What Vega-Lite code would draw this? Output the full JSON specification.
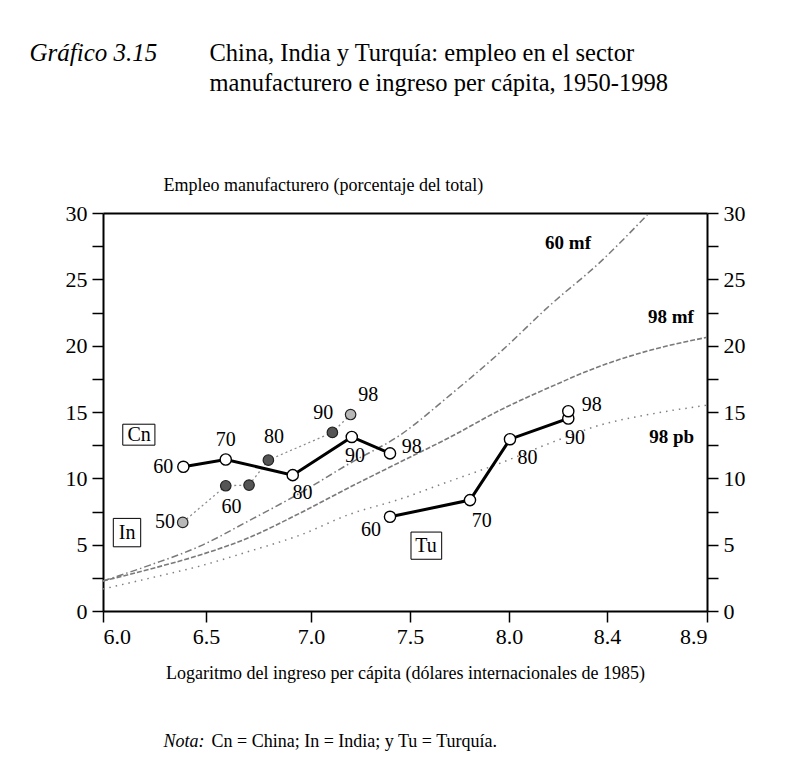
{
  "$schema": "https://vega.github.io/schema/vega-lite/v6.json",
  "width": 604,
  "height": 398,
  "autosize": {"type": "none"},
  "padding": {"left": 103, "top": 213, "right": 95, "bottom": 163},
  "background": "white",
  "config": {
    "view": {"stroke": null},
    "font": "Liberation Serif",
    "axis": {
      "grid": false,
      "labelFont": "Liberation Serif",
      "labelFontSize": 22,
      "labelColor": "black",
      "titleFont": "Liberation Serif",
      "titleFontSize": 18,
      "titleFontWeight": "normal",
      "titleColor": "black",
      "domainColor": "black",
      "domainWidth": 2,
      "tickColor": "black",
      "tickWidth": 1.5
    }
  },
  "datasets": {
    "curves": [
      {"curve": "60 mf", "x": 6.0, "y": 2.26},
      {"curve": "60 mf", "x": 6.228, "y": 3.46},
      {"curve": "60 mf", "x": 6.471, "y": 4.89},
      {"curve": "60 mf", "x": 6.71, "y": 6.85},
      {"curve": "60 mf", "x": 6.948, "y": 8.89},
      {"curve": "60 mf", "x": 7.197, "y": 11.14},
      {"curve": "60 mf", "x": 7.449, "y": 13.25},
      {"curve": "60 mf", "x": 7.702, "y": 16.27},
      {"curve": "60 mf", "x": 7.955, "y": 19.5},
      {"curve": "60 mf", "x": 8.167, "y": 23.04},
      {"curve": "60 mf", "x": 8.371, "y": 26.28},
      {"curve": "60 mf", "x": 8.61, "y": 30.0},
      {"curve": "98 mf", "x": 6.0, "y": 2.26},
      {"curve": "98 mf", "x": 6.228, "y": 3.16},
      {"curve": "98 mf", "x": 6.471, "y": 4.22},
      {"curve": "98 mf", "x": 6.71, "y": 5.57},
      {"curve": "98 mf", "x": 6.948, "y": 7.38},
      {"curve": "98 mf", "x": 7.197, "y": 9.34},
      {"curve": "98 mf", "x": 7.449, "y": 11.22},
      {"curve": "98 mf", "x": 7.702, "y": 13.1},
      {"curve": "98 mf", "x": 7.955, "y": 15.14},
      {"curve": "98 mf", "x": 8.167, "y": 16.87},
      {"curve": "98 mf", "x": 8.371, "y": 18.45},
      {"curve": "98 mf", "x": 8.615, "y": 19.65},
      {"curve": "98 mf", "x": 8.9, "y": 20.63},
      {"curve": "98 pb", "x": 6.0, "y": 1.66},
      {"curve": "98 pb", "x": 6.228, "y": 2.48},
      {"curve": "98 pb", "x": 6.471, "y": 3.39},
      {"curve": "98 pb", "x": 6.71, "y": 4.52},
      {"curve": "98 pb", "x": 6.948, "y": 5.72},
      {"curve": "98 pb", "x": 7.197, "y": 7.3},
      {"curve": "98 pb", "x": 7.449, "y": 8.43},
      {"curve": "98 pb", "x": 7.702, "y": 9.79},
      {"curve": "98 pb", "x": 7.955, "y": 11.14},
      {"curve": "98 pb", "x": 8.167, "y": 12.65},
      {"curve": "98 pb", "x": 8.371, "y": 14.01},
      {"curve": "98 pb", "x": 8.615, "y": 14.83},
      {"curve": "98 pb", "x": 8.9, "y": 15.51}
    ],
    "series": [
      {"c": "Cn", "year": 1960, "x": 6.39, "y": 10.87},
      {"c": "Cn", "year": 1970, "x": 6.594, "y": 11.42},
      {"c": "Cn", "year": 1980, "x": 6.913, "y": 10.24},
      {"c": "Cn", "year": 1990, "x": 7.206, "y": 13.12},
      {"c": "Cn", "year": 1998, "x": 7.399, "y": 11.88},
      {"c": "Tu", "year": 1960, "x": 7.399, "y": 7.1},
      {"c": "Tu", "year": 1970, "x": 7.803, "y": 8.36},
      {"c": "Tu", "year": 1980, "x": 8.004, "y": 12.95},
      {"c": "Tu", "year": 1990, "x": 8.242, "y": 14.51},
      {"c": "Tu", "year": 1998, "x": 8.242, "y": 15.06},
      {"c": "In", "year": 1950, "x": 6.387, "y": 6.68},
      {"c": "In", "year": 1960, "x": 6.594, "y": 9.44},
      {"c": "In", "year": 1970, "x": 6.705, "y": 9.49},
      {"c": "In", "year": 1980, "x": 6.797, "y": 11.37},
      {"c": "In", "year": 1990, "x": 7.108, "y": 13.46},
      {"c": "In", "year": 1998, "x": 7.2, "y": 14.81}
    ],
    "yearLabels": [
      {"t": "60", "x": 6.293, "y": 10.87},
      {"t": "70", "x": 6.594, "y": 12.88},
      {"t": "80", "x": 6.96, "y": 8.86},
      {"t": "90", "x": 7.222, "y": 11.67},
      {"t": "98", "x": 7.509, "y": 12.37},
      {"t": "50", "x": 6.301, "y": 6.72},
      {"t": "60", "x": 6.622, "y": 7.85},
      {"t": "80", "x": 6.824, "y": 13.12},
      {"t": "90", "x": 7.062, "y": 14.89},
      {"t": "98", "x": 7.289, "y": 16.27},
      {"t": "60", "x": 7.303, "y": 6.1},
      {"t": "70", "x": 7.862, "y": 6.78},
      {"t": "80", "x": 8.076, "y": 11.54},
      {"t": "90", "x": 8.269, "y": 13.03},
      {"t": "98", "x": 8.338, "y": 15.51}
    ],
    "curveLabels": [
      {"t": "60 mf", "x": 8.241, "y": 27.71},
      {"t": "98 mf", "x": 8.72, "y": 22.18},
      {"t": "98 pb", "x": 8.723, "y": 13.1}
    ],
    "boxes": [
      {"t": "Cn", "x": 6.175, "y": 13.29, "x1": 6.096, "x2": 6.252, "y1": 12.5, "y2": 14.08},
      {"t": "In", "x": 6.117, "y": 5.91, "x1": 6.05, "x2": 6.183, "y1": 4.84, "y2": 6.98},
      {"t": "Tu", "x": 7.581, "y": 4.93, "x1": 7.505, "x2": 7.66, "y1": 3.9, "y2": 5.95}
    ]
  },
  "resolve": {"axis": {"x": "independent", "y": "independent"}},
  "layer": [
    {
      "data": {"name": "curves"},
      "transform": [{"filter": "datum.curve === '60 mf'"}],
      "mark": {"type": "line", "color": "#7a7a7a", "strokeWidth": 1.5, "strokeDash": [7, 3, 1.5, 3], "interpolate": "monotone"},
      "encoding": {
        "x": {
          "field": "x", "type": "quantitative",
          "scale": {"type": "linear", "domain": [6.0, 6.5, 7.0, 7.5, 8.0, 8.4, 8.9], "range": [0, 103, 208, 307, 406, 504, 604], "nice": false, "zero": false},
          "axis": {
            "orient": "bottom", "values": [6.0, 6.5, 7.0, 7.5, 8.0, 8.4, 8.9], "format": ".1f",
            "tickSize": 11, "labelPadding": 4,
            "title": "Logaritmo del ingreso per cápita (dólares internacionales de 1985)",
            "titleX": 302, "titleY": 67, "titleAlign": "center", "titleBaseline": "alphabetic"
          }
        },
        "y": {
          "field": "y", "type": "quantitative",
          "scale": {"domain": [0, 30], "nice": false, "zero": false},
          "axis": {
            "orient": "left", "values": [0, 2.5, 5, 7.5, 10, 12.5, 15, 17.5, 20, 22.5, 25, 27.5, 30],
            "labelExpr": "datum.value % 5 === 0 ? datum.label : ''",
            "tickSize": 11, "labelPadding": 5,
            "title": "Empleo manufacturero (porcentaje del total)",
            "titleAngle": 0, "titleX": 60, "titleY": -23, "titleAlign": "left", "titleBaseline": "alphabetic"
          }
        }
      }
    },
    {
      "data": {"name": "curves"},
      "transform": [{"filter": "datum.curve === '98 mf'"}],
      "mark": {"type": "line", "color": "#7a7a7a", "strokeWidth": 1.6, "strokeDash": [5, 2], "interpolate": "monotone"},
      "encoding": {
        "x": {
          "field": "x", "type": "quantitative",
          "scale": {"type": "linear", "domain": [6.0, 6.5, 7.0, 7.5, 8.0, 8.4, 8.9], "range": [0, 103, 208, 307, 406, 504, 604], "nice": false, "zero": false},
          "axis": {
            "orient": "top", "ticks": false, "labels": false, "domain": true,
            "title": ["China, India y Turquía: empleo en el sector", "manufacturero e ingreso per cápita, 1950-1998"],
            "titleX": 106, "titleY": -153, "titleAlign": "left", "titleBaseline": "alphabetic",
            "titleFontSize": 24.5, "titleLineHeight": 30
          }
        },
        "y": {
          "field": "y", "type": "quantitative",
          "scale": {"domain": [0, 30], "nice": false, "zero": false},
          "axis": {
            "orient": "right", "values": [0, 2.5, 5, 7.5, 10, 12.5, 15, 17.5, 20, 22.5, 25, 27.5, 30],
            "labelExpr": "datum.value % 5 === 0 ? datum.label : ''",
            "tickSize": 11, "labelPadding": 5,
            "title": "Gráfico 3.15", "titleFontStyle": "italic", "titleFontSize": 25,
            "titleAngle": 0, "titleX": -678, "titleY": -153, "titleAlign": "left", "titleBaseline": "alphabetic"
          }
        }
      }
    },
    {
      "data": {"name": "curves"},
      "transform": [{"filter": "datum.curve === '98 pb'"}],
      "mark": {"type": "line", "color": "#808080", "strokeWidth": 1.5, "strokeDash": [1.5, 5], "interpolate": "monotone"},
      "encoding": {
        "x": {
          "field": "x", "type": "quantitative",
          "scale": {"type": "linear", "domain": [6.0, 6.5, 7.0, 7.5, 8.0, 8.4, 8.9], "range": [0, 103, 208, 307, 406, 504, 604], "nice": false, "zero": false},
          "axis": {
            "orient": "bottom", "ticks": false, "labels": false, "domain": false,
            "title": "Nota:", "titleFontStyle": "italic",
            "titleX": 60, "titleY": 135, "titleAlign": "left", "titleBaseline": "alphabetic"
          }
        },
        "y": {
          "field": "y", "type": "quantitative",
          "scale": {"domain": [0, 30], "nice": false, "zero": false},
          "axis": {
            "orient": "left", "ticks": false, "labels": false, "domain": false,
            "title": "Cn = China; In = India; y Tu = Turquía.",
            "titleAngle": 0, "titleX": 108, "titleY": 533, "titleAlign": "left", "titleBaseline": "alphabetic"
          }
        }
      }
    },
    {
      "data": {"name": "series"},
      "transform": [{"filter": "datum.c === 'In'"}],
      "mark": {"type": "line", "color": "#8c8c8c", "strokeWidth": 1.3, "strokeDash": [2, 3]},
      "encoding": {
        "x": {"field": "x", "type": "quantitative", "axis": null},
        "y": {"field": "y", "type": "quantitative", "axis": null},
        "order": {"field": "year"}
      }
    },
    {
      "data": {"name": "series"},
      "transform": [{"filter": "datum.c !== 'In'"}],
      "mark": {"type": "line", "color": "black", "strokeWidth": 3},
      "encoding": {
        "x": {"field": "x", "type": "quantitative", "axis": null},
        "y": {"field": "y", "type": "quantitative", "axis": null},
        "detail": {"field": "c"},
        "order": {"field": "year"}
      }
    },
    {
      "data": {"name": "series"},
      "transform": [{"filter": "datum.c === 'In'"}],
      "mark": {"type": "circle", "size": 110, "opacity": 1, "stroke": "#222222", "strokeWidth": 1.2},
      "encoding": {
        "x": {"field": "x", "type": "quantitative", "axis": null},
        "y": {"field": "y", "type": "quantitative", "axis": null},
        "fill": {"condition": {"test": "datum.year === 1950 || datum.year === 1998", "value": "#b8b8b8"}, "value": "#555555"}
      }
    },
    {
      "data": {"name": "series"},
      "transform": [{"filter": "datum.c !== 'In'"}],
      "mark": {"type": "circle", "size": 125, "opacity": 1, "fill": "white", "stroke": "black", "strokeWidth": 1.4},
      "encoding": {
        "x": {"field": "x", "type": "quantitative", "axis": null},
        "y": {"field": "y", "type": "quantitative", "axis": null}
      }
    },
    {
      "data": {"name": "yearLabels"},
      "mark": {"type": "text", "font": "Liberation Serif", "fontSize": 20, "color": "black", "align": "center", "baseline": "middle"},
      "encoding": {
        "x": {"field": "x", "type": "quantitative", "axis": null},
        "y": {"field": "y", "type": "quantitative", "axis": null},
        "text": {"field": "t"}
      }
    },
    {
      "data": {"name": "curveLabels"},
      "mark": {"type": "text", "font": "Liberation Serif", "fontSize": 19, "fontWeight": "bold", "color": "black", "align": "center", "baseline": "middle"},
      "encoding": {
        "x": {"field": "x", "type": "quantitative", "axis": null},
        "y": {"field": "y", "type": "quantitative", "axis": null},
        "text": {"field": "t"}
      }
    },
    {
      "data": {"name": "boxes"},
      "mark": {"type": "rect", "fillOpacity": 0, "stroke": "black", "strokeWidth": 1},
      "encoding": {
        "x": {"field": "x1", "type": "quantitative", "axis": null},
        "x2": {"field": "x2"},
        "y": {"field": "y1", "type": "quantitative", "axis": null},
        "y2": {"field": "y2"}
      }
    },
    {
      "data": {"name": "boxes"},
      "mark": {"type": "text", "font": "Liberation Serif", "fontSize": 20, "color": "black", "align": "center", "baseline": "middle"},
      "encoding": {
        "x": {"field": "x", "type": "quantitative", "axis": null},
        "y": {"field": "y", "type": "quantitative", "axis": null},
        "text": {"field": "t"}
      }
    }
  ]
}
